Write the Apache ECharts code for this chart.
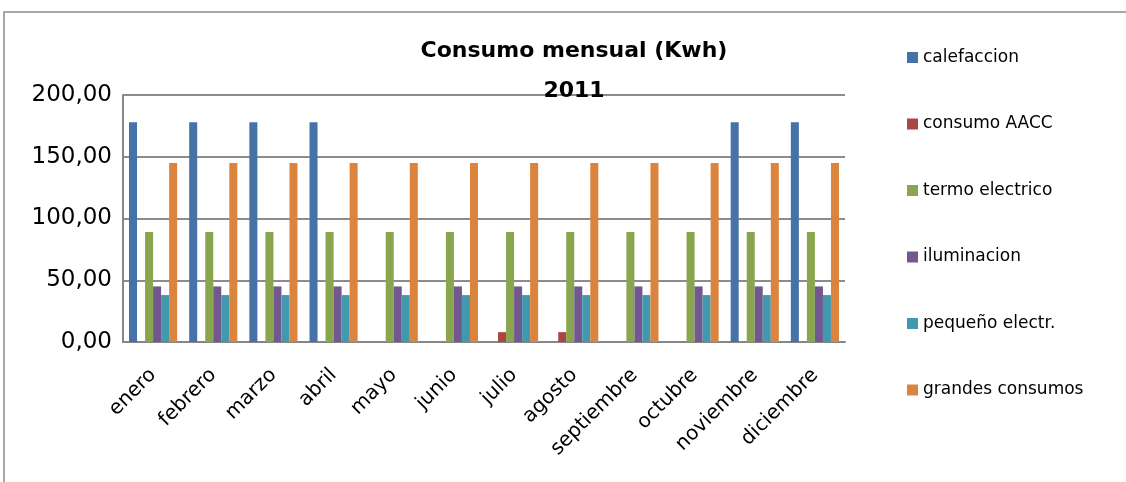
<!DOCTYPE html>
<html>
<head>
<meta charset="utf-8">
<script src="https://cdn.jsdelivr.net/npm/echarts@6/dist/echarts.min.js"></script>
<style>
  html, body { margin: 0; padding: 0; background: #fff; }
  #chart { width: 1126px; height: 482px; }
</style>
</head>
<body>
<div id="chart"></div>
<script>
// Monthly consumption by use (kWh), 2011
const months = ['enero', 'febrero', 'marzo', 'abril', 'mayo', 'junio', 'julio',
  'agosto', 'septiembre', 'octubre', 'noviembre', 'diciembre'];

const calefaccion      = [178, 178, 178, 178, 0, 0, 0, 0, 0, 0, 178, 178];
const consumoAACC      = [0, 0, 0, 0, 0, 0, 8, 8, 0, 0, 0, 0];
const termoElectrico   = [89, 89, 89, 89, 89, 89, 89, 89, 89, 89, 89, 89];
const iluminacion      = [45, 45, 45, 45, 45, 45, 45, 45, 45, 45, 45, 45];
const pequenoElectr    = [38, 38, 38, 38, 38, 38, 38, 38, 38, 38, 38, 38];
const grandesConsumos  = [145, 145, 145, 145, 145, 145, 145, 145, 145, 145, 145, 145];

const seriesNames = ['calefaccion', 'consumo AACC', 'termo electrico',
  'iluminacion', 'pequeño electr.', 'grandes consumos'];
const seriesData = [calefaccion, consumoAACC, termoElectrico,
  iluminacion, pequenoElectr, grandesConsumos];
const colors = ['#4572A7', '#AA4643', '#89A54E', '#71588F', '#4198AF', '#DB843D'];

const yTicks = { min: 0, max: 200, interval: 50 };

const FONT = '"DejaVu Sans", sans-serif';

const chart = echarts.init(document.getElementById('chart'));
chart.setOption({
  animation: false,
  color: colors,
  title: {
    text: 'Consumo mensual (Kwh)\n2011',
    left: 574,
    top: 31,
    padding: 0,
    textAlign: 'center',
    textStyle: { fontFamily: FONT, fontSize: 22, fontWeight: 'bold', color: '#000', lineHeight: 40 }
  },
  legend: {
    orient: 'vertical',
    left: 907,
    top: 49,
    padding: 0,
    itemWidth: 11,
    itemHeight: 11,
    itemGap: 49.5,
    icon: 'rect',
    textStyle: { fontFamily: FONT, fontSize: 17, color: '#000' },
    data: seriesNames
  },
  grid: { left: 123, right: 281, top: 95, bottom: 140 },
  xAxis: {
    type: 'category',
    data: months,
    axisTick: { show: false },
    axisLine: { lineStyle: { color: '#868686', width: 2 } },
    axisLabel: {
      rotate: 45, interval: 0, margin: 30,
      fontFamily: FONT, fontSize: 20, color: '#000'
    }
  },
  yAxis: {
    type: 'value',
    min: yTicks.min, max: yTicks.max, interval: yTicks.interval,
    axisLine: { show: true, lineStyle: { color: '#868686', width: 2 } },
    axisTick: { show: false },
    splitLine: { lineStyle: { color: '#8c8c8c', width: 2 } },
    axisLabel: {
      margin: 11, fontFamily: FONT, fontSize: 23, color: '#000',
      formatter: v => v.toFixed(2).replace('.', ',')
    }
  },
  graphic: [{
    type: 'rect',
    shape: { x: 4, y: 12, width: 1140, height: 480 },
    style: { fill: 'none', stroke: '#8a8a8a', lineWidth: 1.5 },
    silent: true, z: -1
  }],
  series: seriesNames.map((name, i) => ({
    name,
    type: 'bar',
    data: seriesData[i],
    barGap: '0%',
    barCategoryGap: '20%'
  }))
});
</script>
</body>
</html>
